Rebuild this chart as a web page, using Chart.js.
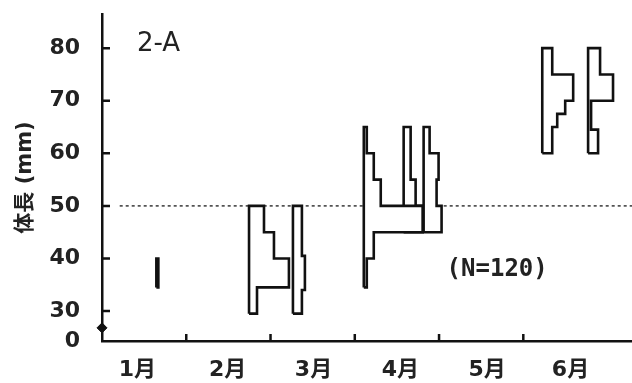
<!DOCTYPE html>
<html lang="ja">
<head>
  <meta charset="UTF-8" />
  <title>体長組成 2-A</title>
  <script src="https://cdn.jsdelivr.net/npm/chart.js"></script>
  <style>
    body { margin: 0; background: #fff; }
    #wrap { width: 632px; height: 383px; }
  </style>
</head>
<body>
  <div id="wrap"><canvas id="kite"></canvas></div>

  <script>
    // 月ラベル (x軸は月単位、1.0 = 1月と2月の境目)
    const monthLabels = ['1月', '2月', '3月', '4月', '5月', '6月'];
    const monthPos = [0.42, 1.49, 2.51, 3.54, 4.57, 5.56];
    const monthTicks = [1, 2, 3, 4, 5];
    const yTicks = [30, 40, 50, 60, 70, 80];

    // 採集日 (月単位)
    const sampleDate = [0.645, 1.745, 2.266, 3.107, 3.580, 3.817, 5.225, 5.769];
    // 階級の境界 (mm, 下から上へ)
    const sampleEdges = [
      [34.5, 40],
      [29.5, 34.5, 40, 45, 50],
      [29.5, 34, 40.5, 50],
      [34.5, 40, 45, 50, 55, 60, 65],
      [45, 50, 55, 65],
      [45, 50, 55, 60, 65],
      [60, 65, 67.5, 70, 75, 80],
      [60, 64.5, 70, 75, 80]
    ];
    // 各階級の頻度 (%)
    const sampleFreq = [
      [2],
      [8, 40, 25, 15],
      [9, 12, 9],
      [3, 10, 59, 17, 10, 3],
      [19, 12, 7],
      [18, 13, 15, 6],
      [10, 15, 23, 31, 10],
      [10, 3, 25, 12]
    ];
    const KITE = 1 / 84.5; // 頻度1% あたりの幅 (月)

    function kite(x0, edges, freq) {
      const pts = [{ x: x0, y: edges[0] }];
      freq.forEach((f, i) => {
        pts.push({ x: x0 + f * KITE, y: edges[i] });
        pts.push({ x: x0 + f * KITE, y: edges[i + 1] });
      });
      pts.push({ x: x0, y: edges[edges.length - 1] });
      pts.push({ x: x0, y: edges[0] });
      return pts;
    }

    const datasets = sampleDate.map((d, i) => ({
      data: kite(d, sampleEdges[i], sampleFreq[i]),
      showLine: true,
      borderColor: '#111',
      borderWidth: 2.6,
      backgroundColor: '#fff',
      fill: 'shape',
      pointRadius: 0,
      order: i === 3 ? 0 : 1
    }));

    // 50mm の点線
    datasets.push({
      data: [{ x: 0.21, y: 50 }, { x: 6.29, y: 50 }],
      showLine: true,
      borderColor: '#444',
      borderWidth: 1.6,
      borderDash: [3, 3],
      pointRadius: 0,
      order: 5
    });
    // 軸上の印
    datasets.push({
      data: [{ x: 0, y: 26.8 }],
      pointStyle: 'rectRot',
      pointRadius: 5,
      backgroundColor: '#111',
      borderColor: '#111',
      clip: false,
      order: 0
    });

    const innerTicks = {
      id: 'innerTicks',
      afterDraw(chart) {
        const { ctx, scales: { x, y } } = chart;
        ctx.save();
        ctx.strokeStyle = '#111';
        ctx.lineWidth = 2.5;
        ctx.beginPath();
        yTicks.forEach(v => {
          const py = y.getPixelForValue(v);
          ctx.moveTo(x.left, py);
          ctx.lineTo(x.left + 8, py);
        });
        monthTicks.forEach(v => {
          const px = x.getPixelForValue(v);
          ctx.moveTo(px, y.bottom);
          ctx.lineTo(px, y.bottom - 7);
        });
        ctx.stroke();

        ctx.fillStyle = '#222';
        ctx.textAlign = 'center';
        ctx.textBaseline = 'middle';
        ctx.font = '26px "DejaVu Sans"';
        ctx.fillText('2-A', x.getPixelForValue(0.67), y.getPixelForValue(80.8));
        ctx.font = 'bold 24px "DejaVu Sans Mono"';
        ctx.fillText('(N=120)', x.getPixelForValue(4.69), y.getPixelForValue(37.8));
        ctx.restore();
      }
    };

    new Chart(document.getElementById('kite'), {
      type: 'scatter',
      data: { datasets },
      plugins: [innerTicks],
      options: {
        responsive: true,
        maintainAspectRatio: false,
        animation: false,
        layout: { autoPadding: false, padding: { top: 14, left: 0, right: 0, bottom: 0 } },
        plugins: { legend: { display: false }, tooltip: { enabled: false } },
        scales: {
          x: {
            type: 'linear',
            min: 0,
            max: 6.29,
            afterFit: s => { s.height = 42; s.paddingLeft = 0; s.paddingRight = 0; },
            afterBuildTicks: s => { s.ticks = monthPos.map(v => ({ value: v })); },
            grid: { display: false, drawTicks: false },
            border: { display: true, color: '#111', width: 2.5 },
            ticks: {
              padding: 16,
              color: '#222',
              font: { family: '"DejaVu Sans", "Noto Sans CJK JP"', size: 22, weight: 'bold' },
              callback: (v, i) => monthLabels[i]
            }
          },
          y: {
            min: 24.3,
            max: 86.5,
            afterFit: s => { s.width = 102; s.paddingTop = 0; s.paddingBottom = 0; },
            afterBuildTicks: s => { s.ticks = [s.min].concat(yTicks).map(v => ({ value: v })); },
            grid: { display: false, drawTicks: false },
            border: { display: true, color: '#111', width: 2.5 },
            title: {
              display: true,
              text: '体長 (mm)',
              color: '#222',
              padding: { top: 13, bottom: 0 },
              font: { family: '"DejaVu Sans", "Noto Sans CJK JP"', size: 21, weight: 'bold' }
            },
            ticks: {
              padding: 22,
              color: '#222',
              font: { family: '"DejaVu Sans"', size: 22, weight: 'bold' },
              callback: (v, i) => (i === 0 ? '0' : v)
            }
          }
        }
      }
    });
  </script>
</body>
</html>
